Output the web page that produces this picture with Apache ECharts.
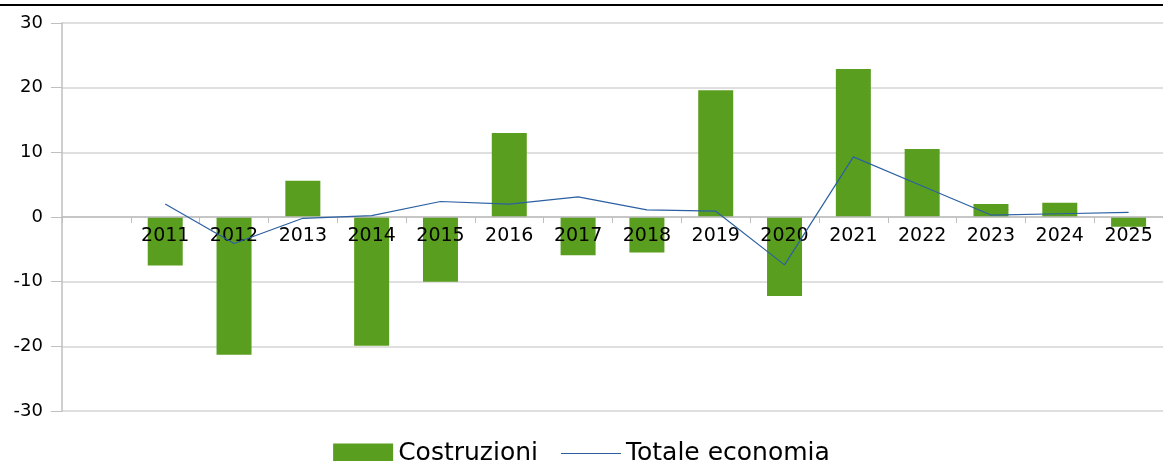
<!DOCTYPE html>
<html lang="it">
<head>
    <meta charset="UTF-8">
    <title>Costruzioni vs Totale economia</title>
    <script src="https://cdn.jsdelivr.net/npm/echarts@6/dist/echarts.min.js"></script>
    <style>
        body{ margin:0; background:#fff; }
        #chart{ width:1163px; height:461px; }
    </style>
</head>
<body>
<div id="chart"></div>
<script type="text/javascript">
    // dati
    var anni = ['', '2011', '2012', '2013', '2014', '2015', '2016', '2017', '2018',
        '2019', '2020', '2021', '2022', '2023', '2024', '2025'];
    var costruzioni = [null, -7.5, -21.3, 5.6, -19.9, -10.0, 13.0, -5.9, -5.5,
        19.6, -12.2, 22.9, 10.5, 2.0, 2.2, -1.5];
    var totaleEconomia = [null, 2.0, -4.1, -0.2, 0.2, 2.4, 2.0, 3.1, 1.1,
        0.9, -7.4, 9.3, 4.8, 0.3, 0.5, 0.7];
    var tickY = [-30, 30, 10];   // min, max, passo

    var chart = echarts.init(document.getElementById('chart'));

    var gridTop = 23, gridBottom = 50;
    var gridH = 461 - gridTop - gridBottom;
    // asse x spostato sullo zero (a metà del grafico, perché min = -max)
    var offsetZero = -gridH / 2;

    var option = {
        animation: false,
        backgroundColor: '#fff',
        textStyle: { fontFamily: 'DejaVu Sans' },
        graphic: [{
            type: 'line',
            shape: { x1: 0, y1: 5, x2: 1163, y2: 5 },
            style: { stroke: '#000', lineWidth: 2 }
        }],
        legend: {
            top: 436,
            left: 'center',
            itemWidth: 60,
            itemHeight: 20,
            itemGap: 23,
            textStyle: { fontSize: 25, color: '#000', fontFamily: 'DejaVu Sans' },
            data: [
                { name: 'Costruzioni', icon: 'rect' },
                // linea sottile centrata nel riquadro 60x20
                { name: 'Totale economia', icon: 'path://M0,0H0.01V0.01H0Z M0,9.4H60V10.6H0Z M59.99,19.99H60V20H59.99Z' }
            ]
        },
        grid: { left: 62, right: -8, top: gridTop, bottom: gridBottom },
        xAxis: {
            type: 'category',
            data: anni,
            offset: offsetZero,
            z: 10,
            axisLine: { onZero: false, lineStyle: { color: '#bfbfbf', width: 1.5 } },
            axisTick: { show: true, length: 6, lineStyle: { color: '#bfbfbf' } },
            axisLabel: { color: '#000', fontSize: 19, margin: 10, interval: 0 }
        },
        yAxis: {
            type: 'value',
            min: tickY[0],
            max: tickY[1],
            interval: tickY[2],
            axisLine: { show: true, lineStyle: { color: '#bfbfbf', width: 1.5 } },
            axisTick: { show: true, length: 11, lineStyle: { color: '#bfbfbf' } },
            axisLabel: { color: '#000', fontSize: 18, margin: 19 },
            splitLine: { lineStyle: { color: '#d4d4d4', width: 1.5 } }
        },
        series: [
            {
                name: 'Costruzioni',
                type: 'bar',
                barWidth: 35,
                itemStyle: { color: '#5a9e1f' },
                data: costruzioni
            },
            {
                name: 'Totale economia',
                type: 'line',
                symbol: 'none',
                z: 12,
                lineStyle: { color: '#2b60a2', width: 1.2 },
                itemStyle: { color: '#2b60a2' },
                data: totaleEconomia
            }
        ]
    };

    chart.setOption(option);
</script>
</body>
</html>
